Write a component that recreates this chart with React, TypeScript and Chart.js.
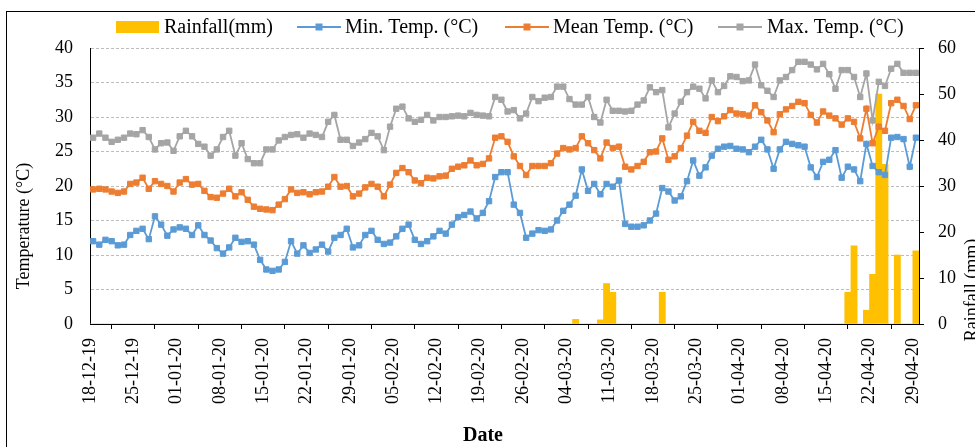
import React, { useEffect, useRef } from 'react';
import { Chart, registerables } from 'chart.js';

Chart.register(...registerables);

// Tick labels, one every 7 days starting at 18-12-19 (day 0)
const tickLabels = [
  '18-12-19', '25-12-19', '01-01-20', '08-01-20', '15-01-20', '22-01-20', '29-01-20',
  '05-02-20', '12-02-20', '19-02-20', '26-02-20', '04-03-20', '11-03-20', '18-03-20',
  '25-03-20', '01-04-20', '08-04-20', '15-04-20', '22-04-20', '29-04-20',
];

const seriesLabels = ['Rainfall(mm)', 'Min. Temp. (°C)', 'Mean Temp. (°C)', 'Max. Temp. (°C)'];
const yTitle = 'Temperature (°C)';
const y1Title = 'Rainfall (mm)';
const xTitle = 'Date';

// Daily values, 18-12-19 .. 29-04-20 (one row per week)
const rainfall = [
  0, 0, 0, 0, 0, 0, 0,
  0, 0, 0, 0, 0, 0, 0,
  0, 0, 0, 0, 0, 0, 0,
  0, 0, 0, 0, 0, 0, 0,
  0, 0, 0, 0, 0, 0, 0,
  0, 0, 0, 0, 0, 0, 0,
  0, 0, 0, 0, 0, 0, 0,
  0, 0, 0, 0, 0, 0, 0,
  0, 0, 0, 0, 0, 0, 0,
  0, 0, 0, 0, 0, 0, 0,
  0, 0, 0, 0, 0, 0, 0,
  0, 1.0, 0, 0, 0, 0.9, 8.8,
  6.9, 0, 0, 0, 0, 0, 0,
  0, 6.9, 0, 0, 0, 0, 0,
  0, 0, 0, 0, 0, 0, 0,
  0, 0, 0, 0, 0, 0, 0,
  0, 0, 0, 0, 0, 0, 0,
  0, 0, 0, 6.9, 17.0, 0, 3.0,
  10.8, 50.0, 34.7, 0, 15.0, 0, 0,
  15.9,
];

const minTemp = [
  12.0, 11.5, 12.2, 12.0, 11.4, 11.5, 12.9,
  13.5, 13.8, 12.3, 15.6, 14.4, 12.8, 13.7,
  14.0, 13.8, 12.9, 14.3, 12.9, 12.1, 11.0,
  10.2, 11.1, 12.5, 11.9, 12.0, 11.5, 9.3,
  7.9, 7.7, 7.9, 9.0, 12.0, 10.2, 11.4,
  10.3, 10.8, 11.5, 10.5, 12.5, 12.9, 13.8,
  11.1, 11.4, 12.9, 13.5, 12.2, 11.6, 11.8,
  12.7, 13.8, 14.4, 12.2, 11.6, 12.0, 12.7,
  13.5, 13.1, 14.4, 15.5, 15.8, 16.3, 15.3,
  16.1, 17.8, 21.3, 22.0, 22.0, 17.3, 16.1,
  12.5, 13.1, 13.6, 13.5, 13.7, 15.0, 16.4,
  17.3, 18.6, 22.4, 19.3, 20.3, 18.8, 20.3,
  19.9, 20.8, 14.5, 14.1, 14.1, 14.3, 15.0,
  16.0, 19.7, 19.2, 17.9, 18.5, 20.7, 23.7,
  21.5, 22.7, 24.4, 25.4, 25.7, 25.8, 25.4,
  25.3, 24.9, 25.7, 26.7, 25.3, 22.5, 25.3,
  26.4, 26.1, 25.9, 25.7, 22.7, 21.3, 23.5,
  23.8, 25.2, 21.2, 22.8, 22.4, 20.7, 26.1,
  22.9, 22.0, 21.6, 27.0, 27.1, 26.8, 22.8,
  27.0,
];

const meanTemp = [
  19.5, 19.6, 19.5, 19.2, 19.0, 19.2, 20.3,
  20.5, 21.2, 19.6, 20.7, 20.3, 20.0, 19.2,
  20.5, 21.0, 20.2, 20.3, 19.3, 18.4, 18.3,
  18.9, 19.6, 18.5, 19.1, 18.0, 17.0, 16.7,
  16.6, 16.5, 17.3, 18.1, 19.5, 19.0, 19.1,
  18.8, 19.1, 19.2, 19.9, 21.3, 19.9, 20.0,
  18.5, 18.9, 19.8, 20.3, 19.9, 18.5, 20.2,
  21.9, 22.6, 22.0, 20.8, 20.4, 21.2, 21.1,
  21.4, 21.5, 22.5, 22.8, 23.0, 23.7, 23.0,
  23.2, 24.0, 27.0, 27.2, 26.4, 24.3, 22.9,
  21.6, 22.9, 22.9, 22.9, 23.3, 24.7, 25.5,
  25.3, 25.5, 27.2, 26.2, 25.2, 24.0, 26.3,
  25.5, 25.7, 22.8, 22.4, 22.9, 23.5, 24.9,
  25.0, 26.9, 23.8, 24.3, 25.5, 27.3, 29.3,
  28.0, 27.7, 30.0, 29.4, 30.1, 31.0, 30.5,
  30.4, 30.2, 31.7, 30.7, 29.5, 27.8, 30.4,
  31.1, 31.6, 32.2, 32.0, 30.3, 29.2, 30.8,
  30.2, 29.8, 28.9, 29.8, 29.3, 26.9, 31.2,
  26.2, 28.6, 28.0, 32.0, 32.5, 31.6, 29.7,
  31.7,
];

const maxTemp = [
  27.0, 27.6, 27.0, 26.4, 26.7, 27.0, 27.6,
  27.5, 28.1, 27.1, 25.3, 26.2, 26.3, 25.1,
  27.2, 28.0, 27.2, 26.1, 25.7, 24.4, 25.3,
  27.1, 28.0, 24.4, 26.2, 23.9, 23.3, 23.3,
  25.3, 25.3, 26.6, 27.1, 27.4, 27.5, 27.0,
  27.6, 27.4, 27.1, 29.3, 30.3, 26.7, 26.7,
  25.8, 26.3, 26.8, 27.7, 27.2, 25.2, 28.6,
  31.2, 31.5, 29.8, 29.3, 29.6, 30.3, 29.5,
  30.0, 30.0, 30.1, 30.2, 30.1, 30.6, 30.3,
  30.2, 30.1, 32.9, 32.5, 30.8, 31.0, 29.8,
  30.5, 32.9, 32.3, 32.8, 32.9, 34.4, 34.4,
  32.6, 31.8, 31.8, 32.9, 30.0, 29.2, 32.5,
  30.9, 30.9, 30.8, 30.9, 31.8, 32.4, 34.3,
  33.6, 33.9, 28.5, 30.5, 32.2, 33.6, 34.4,
  34.1, 32.7, 35.3, 33.6, 34.5, 35.9, 35.8,
  35.2, 35.3, 37.6, 34.6, 33.8, 32.9, 35.3,
  35.8, 36.8, 38.0, 38.0, 37.6, 36.9, 37.7,
  36.2, 34.1, 36.8, 36.8, 35.8, 32.9, 36.3,
  29.5, 35.1, 34.5, 37.0, 37.7, 36.4, 36.4,
  36.4,
];

const FONT = "'Liberation Serif', 'Times New Roman', Times, serif";
const RAIN_COLOR = '#FFC000';
const MIN_COLOR = '#5B9BD5';
const MEAN_COLOR = '#ED7D31';
const MAX_COLOR = '#A5A5A5';

// each day occupies one unit on the date axis; points sit in the middle of their day
const toPoints = (values: number[]) => values.map((v, i) => ({ x: i + 0.5, y: v }));

const decorPlugin = {
  id: 'decor',
  afterDraw(chart: any) {
    const { ctx } = chart;
    const ds = chart.data.datasets;
    ctx.save();
    ctx.textBaseline = 'middle';
    ctx.textAlign = 'left';
    ctx.font = `20px ${FONT}`;
    const ly = 27;
    // bar key
    ctx.fillStyle = ds[0].backgroundColor;
    ctx.fillRect(116, ly - 6, 43, 12);
    ctx.fillStyle = '#000';
    ctx.fillText(ds[0].label, 164, ly + 1);
    const keys = [
      [297, 345],
      [505, 553],
      [718, 767],
    ];
    keys.forEach(([lx, tx], k) => {
      const d = ds[k + 1];
      ctx.strokeStyle = d.borderColor;
      ctx.lineWidth = 2;
      ctx.beginPath();
      ctx.moveTo(lx, ly);
      ctx.lineTo(lx + 44, ly);
      ctx.stroke();
      ctx.fillStyle = d.borderColor;
      ctx.fillRect(lx + 22 - 3.5, ly - 3.5, 7, 7);
      ctx.fillStyle = '#000';
      ctx.fillText(d.label, tx, ly + 1);
    });
    // axis titles
    ctx.font = `18px ${FONT}`;
    ctx.textAlign = 'center';
    ctx.save();
    ctx.translate(24, 226);
    ctx.rotate(-Math.PI / 2);
    ctx.fillText(yTitle, 0, 0);
    ctx.restore();
    ctx.save();
    ctx.translate(972, 290);
    ctx.rotate(-Math.PI / 2);
    ctx.fillText(y1Title, 0, 0);
    ctx.restore();
    ctx.font = `bold 20px ${FONT}`;
    ctx.fillText(xTitle, 483, 436);
    ctx.restore();
  },
};

export default function App() {
  const canvasRef = useRef<HTMLCanvasElement | null>(null);

  useEffect(() => {
    if (!canvasRef.current) return;
    const tickFont = { family: FONT, size: 18 };
    const lineCommon = {
      type: 'line' as const,
      yAxisID: 'y',
      pointStyle: 'rect',
      pointRadius: 3.8,
      pointHoverRadius: 3.8,
      pointBorderWidth: 1,
      borderWidth: 1.8,
      tension: 0,
      fill: false,
    };
    const chart = new Chart(canvasRef.current, {
      type: 'bar',
      data: {
        datasets: [
          {
            type: 'bar',
            label: seriesLabels[0],
            data: toPoints(rainfall),
            yAxisID: 'y1',
            backgroundColor: RAIN_COLOR,
            borderWidth: 0,
            barPercentage: 1,
            categoryPercentage: 1,
            order: 4,
          } as any,
          {
            ...lineCommon,
            label: seriesLabels[1],
            data: toPoints(minTemp),
            borderColor: MIN_COLOR,
            backgroundColor: MIN_COLOR,
            pointBackgroundColor: MIN_COLOR,
            pointBorderColor: MIN_COLOR,
            order: 3,
          } as any,
          {
            ...lineCommon,
            label: seriesLabels[2],
            data: toPoints(meanTemp),
            borderColor: MEAN_COLOR,
            backgroundColor: MEAN_COLOR,
            pointBackgroundColor: MEAN_COLOR,
            pointBorderColor: MEAN_COLOR,
            order: 2,
          } as any,
          {
            ...lineCommon,
            label: seriesLabels[3],
            data: toPoints(maxTemp),
            borderColor: MAX_COLOR,
            backgroundColor: MAX_COLOR,
            pointBackgroundColor: MAX_COLOR,
            pointBorderColor: MAX_COLOR,
            order: 1,
          } as any,
        ],
      },
      options: {
        animation: false,
        responsive: false,
        maintainAspectRatio: false,
        events: [],
        layout: { padding: { left: 0, right: 0, top: 48, bottom: 0 } },
        plugins: {
          legend: { display: false },
          tooltip: { enabled: false },
          title: { display: false },
        },
        scales: {
          x: {
            type: 'linear',
            min: 0,
            max: rainfall.length,
            offset: false,
            bounds: 'ticks',
            afterBuildTicks: (s: any) => {
              s.ticks = s.ticks.filter((t: any) => t.value % 7 === 0 && t.value < rainfall.length);
            },
            ticks: {
              stepSize: 7,
              includeBounds: false,
              autoSkip: false,
              maxRotation: 90,
              minRotation: 90,
              padding: 9,
              color: '#000',
              font: tickFont,
              callback: (v: any) => {
                const n = Number(v);
                return n % 7 === 0 ? tickLabels[n / 7] ?? '' : '';
              },
            },
            grid: {
              drawOnChartArea: false,
              drawTicks: true,
              tickLength: 5,
              color: '#000',
            },
            border: { display: true, color: '#000', width: 1 },
            afterFit: (s: any) => {
              s.height = 123;
            },
          } as any,
          y: {
            type: 'linear',
            position: 'left',
            min: 0,
            max: 40,
            ticks: { stepSize: 5, padding: 17, color: '#000', font: tickFont },
            grid: {
              drawTicks: false,
              color: (c: any) => (c.tick && c.tick.value === 0 ? 'rgba(0,0,0,0)' : '#bdbdbd'),
              lineWidth: 1,
            },
            border: { display: true, color: '#000', width: 1, dash: [3, 2] },
            afterFit: (s: any) => {
              s.width = 90;
            },
          } as any,
          y1: {
            type: 'linear',
            position: 'right',
            min: 0,
            max: 60,
            ticks: { stepSize: 10, padding: 14, color: '#000', font: tickFont },
            grid: {
              drawOnChartArea: false,
              drawTicks: true,
              tickLength: 5,
              color: '#000',
            },
            border: { display: true, color: '#000', width: 1 },
            afterFit: (s: any) => {
              s.width = 56;
            },
          } as any,
        },
      },
      plugins: [decorPlugin],
    });
    return () => chart.destroy();
  }, []);

  return (
    <div
      style={{
        position: 'fixed',
        left: 0,
        top: 0,
        width: 975,
        height: 447,
        overflow: 'hidden',
        background: '#fff',
      }}
    >
      <div
        style={{
          position: 'absolute',
          left: 6,
          top: 11,
          width: 1100,
          height: 600,
          border: '1px solid #000',
          boxSizing: 'border-box',
        }}
      />
      <canvas
        ref={canvasRef}
        width={975}
        height={447}
        style={{ position: 'absolute', left: 0, top: 0, width: 975, height: 447 }}
      />
    </div>
  );
}
